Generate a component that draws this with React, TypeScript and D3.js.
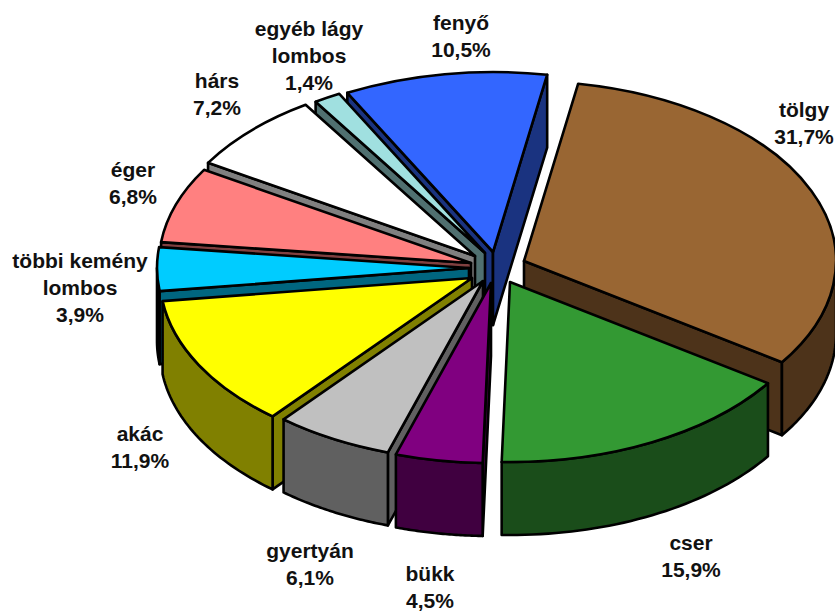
import React from "react";
import * as d3 from "d3";

const names = ["tölgy", "cser", "bükk", "gyertyán", "akác", "többi kemény lombos", "éger", "hárs", "egyéb lágy lombos", "fenyő"];
const shares = [31.7, 15.9, 4.5, 6.1, 11.9, 3.9, 6.8, 7.2, 1.4, 10.5];
const valueLabels = ["31,7%", "15,9%", "4,5%", "6,1%", "11,9%", "3,9%", "6,8%", "7,2%", "1,4%", "10,5%"];
const topColors = ["#996633", "#339933", "#800080", "#C0C0C0", "#FFFF00", "#00CCFF", "#FF8080", "#FFFFFF", "#A0E0E0", "#3366FF"];
const wallColors = ["#4D331A", "#1A4D1A", "#400040", "#606060", "#808000", "#006680", "#804040", "#808080", "#507070", "#1A3380"];
const apexX = [524, 510, 491, 483, 472, 469, 471, 475, 485, 493];
const apexY = [261, 282, 283, 281, 278, 268, 263, 256, 253, 252];
const labelLines = [["tölgy", "31,7%"], ["cser", "15,9%"], ["bükk", "4,5%"], ["gyertyán", "6,1%"], ["akác", "11,9%"], ["többi kemény", "lombos", "3,9%"], ["éger", "6,8%"], ["hárs", "7,2%"], ["egyéb lágy", "lombos", "1,4%"], ["fenyő", "10,5%"]];
const labelX = [804, 691, 430, 310, 140, 80, 133, 217, 309, 461];
const labelY = [117, 550, 581, 558, 441, 268, 177, 88, 36, 30];
const paintOrder = [0, 9, 8, 7, 6, 5, 4, 3, 2, 1];

const RX = 312;
const RY = 180;
const DEPTH = 73;
const START = (10 * Math.PI) / 180;

export default function App() {
  const pie = d3.pie<number>().sort(null).startAngle(START).endAngle(START + 2 * Math.PI);
  const arcs = pie(shares);
  const arc = d3.arc<d3.PieArcDatum<number>>().innerRadius(0).outerRadius(RX);
  const line = d3.line<[number, number]>();
  const k = RY / RX;

  const pt = (i: number, a: number, dy = 0): [number, number] => [
    apexX[i] + RX * Math.sin(a),
    apexY[i] - RY * Math.cos(a) + dy,
  ];

  return (
    <svg width={835} height={611} style={{ position: "absolute", left: 0, top: 0, background: "#fff" }}>
      {paintOrder.map((i) => {
        const d = arcs[i];
        const lo = Math.max(d.startAngle, Math.PI / 2);
        const hi = Math.min(d.endAngle, (3 * Math.PI) / 2);
        const n = 40;
        const angles = hi > lo ? d3.range(n + 1).map((j) => lo + ((hi - lo) * j) / n) : [];
        const outer = [
          ...angles.map((a) => pt(i, a)),
          ...angles.slice().reverse().map((a) => pt(i, a, DEPTH)),
        ];
        const apex: [number, number] = [apexX[i], apexY[i]];
        const wall = (a: number) => [apex, pt(i, a), pt(i, a, DEPTH), [apex[0], apex[1] + DEPTH]] as [number, number][];
        const wallStyle = { fill: wallColors[i], stroke: "#000", strokeWidth: 2.6, strokeLinejoin: "round" as const };
        return (
          <g key={names[i]}>
            {Math.sin(d.startAngle) < 0 && <path d={line(wall(d.startAngle))! + "Z"} {...wallStyle} />}
            {Math.sin(d.endAngle) > 0 && <path d={line(wall(d.endAngle))! + "Z"} {...wallStyle} />}
            {outer.length > 0 && <path d={line(outer)! + "Z"} {...wallStyle} />}
            <path
              d={arc(d)!}
              transform={`translate(${apexX[i]},${apexY[i]}) scale(1,${k})`}
              fill={topColors[i]}
              stroke="#000"
              strokeWidth={2.6}
              strokeLinejoin="round"
              vectorEffect="non-scaling-stroke"
            />
          </g>
        );
      })}
      {labelLines.map((lines, i) => (
        <text
          key={valueLabels[i]}
          textAnchor="middle"
          fontFamily="Liberation Sans"
          fontWeight="bold"
          fontSize={21}
          fill="#111"
        >
          {lines.map((t, j) => (
            <tspan key={j} x={labelX[i]} y={labelY[i] + j * 27}>
              {t}
            </tspan>
          ))}
        </text>
      ))}
    </svg>
  );
}
